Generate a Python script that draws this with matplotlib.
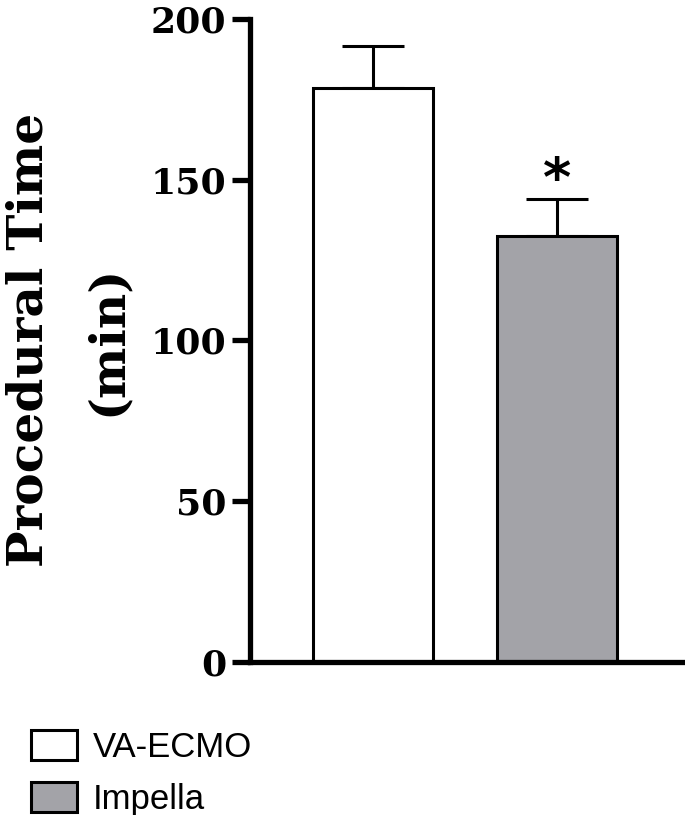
import matplotlib.pyplot as plt
from matplotlib.patches import Patch

# dane
groups = ['VA-ECMO', 'Impella']
means = [178.5, 132.5]
sem = [13.0, 11.5]
colors = ['white', '#a3a3a8']
signif = ['', '*']
yticks = [0, 50, 100, 150, 200]

plt.rcParams['font.family'] = 'DejaVu Serif'

fig = plt.figure(figsize=(6.85, 8.15), dpi=100)
ax = fig.add_axes([0.365, 0.188, 0.632, 0.789])

x = range(len(groups))
ax.bar(x, means, width=0.652, color=colors, edgecolor='black', linewidth=2.2, zorder=2)
ax.errorbar(x, means, yerr=[[0, 0], sem], fmt='none', ecolor='black',
            elinewidth=2.2, capsize=22, capthick=2.2, zorder=1)

# gwiazdka istotności nad słupkiem
for i in x:
    if signif[i]:
        ax.annotate(signif[i], (i, means[i] + sem[i]), xytext=(0, 2),
                    textcoords='offset points', ha='center', va='baseline',
                    fontsize=39, fontweight='bold', family='DejaVu Sans')

ax.set_xlim(-0.668, 1.685)
ax.set_ylim(0, 200)
ax.set_yticks(yticks)
ax.set_xticks([])
ax.spines['top'].set_visible(False)
ax.spines['right'].set_visible(False)
ax.spines['left'].set_linewidth(3.8)
ax.spines['bottom'].set_linewidth(3.8)
ax.tick_params(axis='y', length=13, width=3.8, labelsize=26, pad=4)
for t in ax.get_yticklabels():
    t.set_fontweight('bold')

ax.set_ylabel('Procedural Time\n(min)', fontsize=35, fontweight='bold',
              linespacing=1.85, labelpad=14)

handles = [Patch(facecolor=c, edgecolor='black', linewidth=2.2) for c in colors]
fig.legend(handles, groups, loc='upper left', bbox_to_anchor=(0.045, 0.104),
           frameon=False, borderpad=0, borderaxespad=0,
           handlelength=1.33, handleheight=0.95, handletextpad=0.45,
           labelspacing=0.52, prop={'family': 'Liberation Sans', 'size': 25})

fig.savefig('out.png', dpi=100)
